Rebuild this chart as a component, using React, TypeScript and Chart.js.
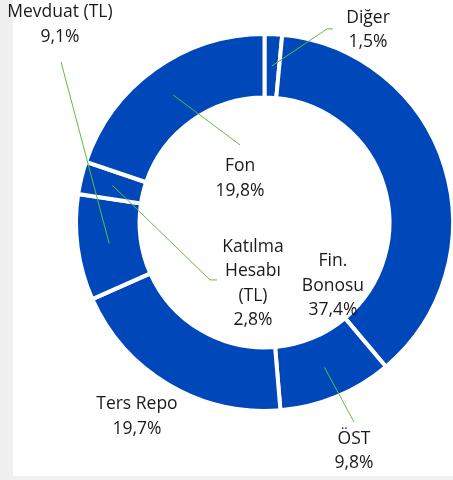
import React, { useEffect, useRef } from "react";
import { Chart, registerables } from "chart.js";

Chart.register(...registerables);

// ---- data ----
const categories = ["Diğer", "Fin. Bonosu", "ÖST", "Ters Repo", "Mevduat (TL)", "Katılma Hesabı (TL)", "Fon"];
const shares = [1.5, 37.4, 9.8, 19.7, 9.1, 2.8, 19.8];
const labelLines = [["Diğer"], ["Fin.", "Bonosu"], ["ÖST"], ["Ters Repo"], ["Mevduat (TL)"], ["Katılma", "Hesabı", "(TL)"], ["Fon"]];
const pctText = shares.map((v) => v.toFixed(1).replace(".", ",") + "%");

// ---- label layout (relative to doughnut centre, in units of outer radius) ----
const labelPos = [
  [0.555, -1.032],
  [0.367, 0.338],
  [0.48, 1.225],
  [-0.684, 1.04],
  [-1.097, -1.062],
  [-0.062, 0.327],
  [-0.131, -0.236],
];
const leaderPts: (number[][] | null)[] = [
  [[0.335, -1.038], [0.367, -1.038]],
  null,
  [[0.48, 1.07]],
  null,
  [[-1.091, -0.861]],
  [[-0.292, 0.308], [-0.255, 0.308]],
  [[-0.131, -0.416]],
];

const BLUE = "#0047BA";
const GREEN = "#5CBF3C";
const TEXT = "#1a1a1a";
const BW = 4;

const labelPlugin = {
  id: "sliceLabels",
  afterDatasetsDraw(chart: any) {
    const ctx = chart.ctx;
    const meta = chart.getDatasetMeta(0);
    ctx.save();
    meta.data.forEach((arc: any, i: number) => {
      const p = arc.getProps(["x", "y", "startAngle", "endAngle", "innerRadius", "outerRadius"], true);
      const unit = p.outerRadius - BW / 2;
      const mid = (p.startAngle + p.endAngle) / 2;
      const rMid = (p.outerRadius + p.innerRadius) / 2;
      const lp = leaderPts[i];
      if (lp) {
        ctx.beginPath();
        ctx.strokeStyle = GREEN;
        ctx.lineWidth = 1;
        ctx.moveTo(p.x + rMid * Math.cos(mid), p.y + rMid * Math.sin(mid));
        lp.forEach((pt) => ctx.lineTo(p.x + pt[0] * unit, p.y + pt[1] * unit));
        ctx.stroke();
      }
      const lines = [...labelLines[i], pctText[i]];
      const lh = 24.3;
      const cx = p.x + labelPos[i][0] * unit;
      const cy = p.y + labelPos[i][1] * unit;
      ctx.fillStyle = TEXT;
      ctx.font = "17.5px 'Open Sans'";
      ctx.textAlign = "center";
      ctx.textBaseline = "middle";
      lines.forEach((t, k) => {
        ctx.fillText(t, cx, cy - ((lines.length - 1) * lh) / 2 + k * lh);
      });
    });
    ctx.restore();
  },
};

export default function App() {
  const ref = useRef<HTMLCanvasElement>(null);
  useEffect(() => {
    if (!ref.current) return;
    const chart = new Chart(ref.current, {
      type: "doughnut",
      data: {
        labels: categories,
        datasets: [
          {
            data: shares,
            backgroundColor: BLUE,
            borderColor: "#ffffff",
            borderWidth: BW,
            hoverBorderWidth: BW,
          },
        ],
      },
      options: {
        responsive: false,
        animation: false,
        cutout: "66.3%",
        rotation: 0,
        layout: { padding: { top: 32, bottom: 67, left: 74, right: 105 } },
        plugins: { legend: { display: false }, tooltip: { enabled: false } },
        events: [],
      },
      plugins: [labelPlugin],
    });
    return () => chart.destroy();
  }, []);
  return (
    <div style={{ position: "absolute", left: 0, top: 0, width: 453, height: 480, overflow: "hidden", background: "#f0f0f0" }}>
      <div style={{ position: "absolute", left: 13, top: 0, width: 440, height: 476, background: "#ffffff" }} />
      <canvas ref={ref} width={560} height={480} style={{ position: "absolute", left: 0, top: 0, display: "block" }} />
    </div>
  );
}
